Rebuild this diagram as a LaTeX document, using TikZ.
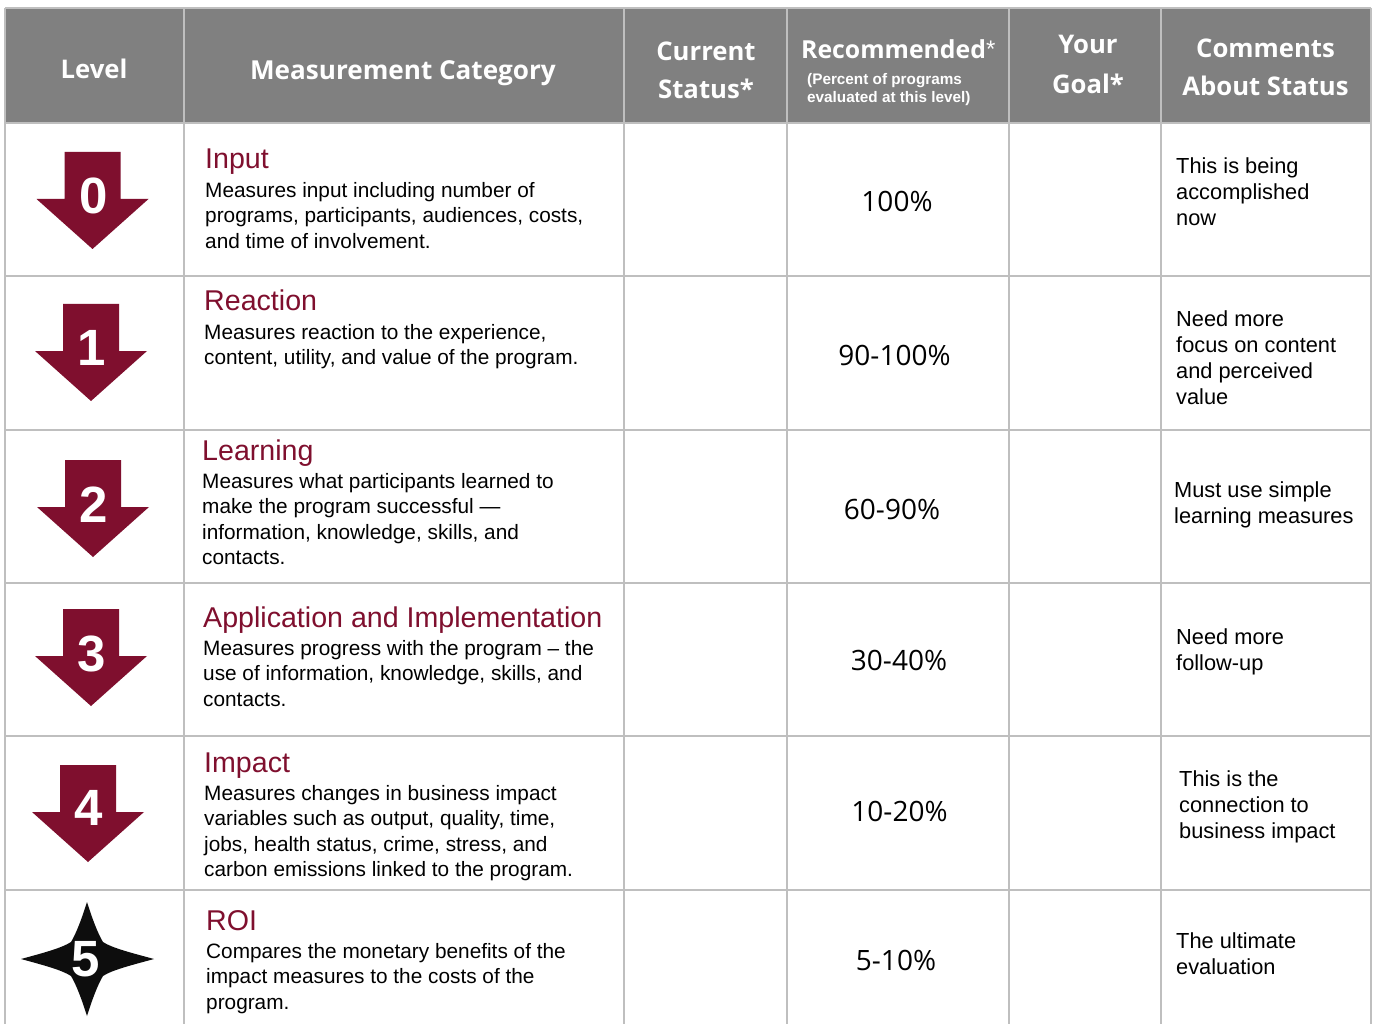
\documentclass[tikz,border=0pt]{standalone}
\usepackage{fontspec}
\setmainfont{Liberation Sans}
\newfontfamily\hdfont{Open Sans}
\definecolor{maroon}{HTML}{7F0F2E}
\definecolor{hdgray}{HTML}{808080}
\definecolor{rule}{HTML}{BFBFBF}
\newcommand{\lvlarrow}[4]{%
  \fill[maroon] (#1-28,#2) -- (#1+28,#2) -- (#1+28,#2+47) -- (#1+56,#2+47) -- (#1,#2+97) -- (#1-56,#2+47) -- (#1-28,#2+47) -- cycle;
  \node[digit] (digit#3) at (#1+0.7,#2+#4) {#3};}
\newcommand{\cat}[5]{%
  \node[cathead,anchor=base west] (head#1) at (#2,#3) {#4};
  \node[catbody,anchor=north west] (body#1) at (#2,#3+13) {#5};}
\tikzset{
  x=1pt,y=-1pt,
  digit/.style={font=\fontsize{51}{51}\selectfont\bfseries,text=white,inner sep=0pt},
  hd/.style={font=\hdfont\bfseries\fontsize{25.7}{38}\selectfont,text=white,align=center,inner sep=0pt},
  cathead/.style={font=\fontsize{28.6}{29}\selectfont,text=maroon,inner sep=0pt},
  catbody/.style={font=\fontsize{20.8}{25.4}\selectfont,align=left,inner sep=0pt,text=black},
  pct/.style={font=\hdfont\fontsize{28}{30}\selectfont,inner sep=0pt,text=black},
  cmt/.style={font=\fontsize{21.8}{26}\selectfont,align=left,inner sep=0pt,anchor=north west,text=black},
  gridl/.style={draw=rule,line width=2pt}
}
\begin{document}
\begin{tikzpicture}
\useasboundingbox (0,0) rectangle (1376,1024);
\fill[white] (0,0) rectangle (1376,1024);
\fill[hdgray] (5,8) rectangle (1371,123);
% grid
\foreach \yy in {8,123,276,430,583,736,890} \draw[gridl] (5,\yy) -- (1371,\yy);
\foreach \xx in {5,184,624,787,1009,1161,1371} \draw[gridl] (\xx,8) -- (\xx,1024);
% header
\node[hd,anchor=base] (hLevel) at (94,79) {Level};
\node[hd,font=\hdfont\bfseries\fontsize{26.1}{38}\selectfont,anchor=base] (hCat) at (403,79.5) {Measurement Category};
\node[hd] (hCur) at (706,70.5) {Current\\Status*};
\node[hd,font=\hdfont\bfseries\fontsize{24.8}{38}\selectfont,anchor=base west] (hRec) at (801,59) {Recommended\raisebox{1pt}{\normalfont\fontsize{24}{24}\selectfont *}};
\node[font=\bfseries\fontsize{15.3}{18.3}\selectfont,text=white,align=left,inner sep=0pt,anchor=north west] (hRecSub) at (807,73) {(Percent of programs\\evaluated at this level)};
\node[hd,font=\hdfont\bfseries\fontsize{25.7}{40}\selectfont] (hGoal) at (1088,64.5) {Your\\Goal*};
\node[hd] (hCom) at (1265.5,67) {Comments\\About Status};
% arrows
\lvlarrow{92.5}{152}{0}{44}
\lvlarrow{91}{304}{1}{44}
\lvlarrow{93}{460}{2}{44.5}
\lvlarrow{91}{609}{3}{45}
\lvlarrow{88}{765}{4}{42.5}
% star
\fill[black!95] (87,902) .. controls (92,918) and (98,934) .. (103,942)
  .. controls (112,948) and (132,953) .. (154,959)
  .. controls (132,965) and (112,970) .. (103,976)
  .. controls (98,984) and (92,1000) .. (87,1016)
  .. controls (82,1000) and (76,984) .. (71,976)
  .. controls (62,970) and (43,965) .. (21,959)
  .. controls (43,953) and (62,948) .. (71,942)
  .. controls (76,934) and (82,918) .. cycle;
\node[digit] (digit5) at (86,959) {5};
% categories
\cat{0}{205}{169}{Input}{Measures input including number of\\programs, participants, audiences, costs,\\and time of involvement.}
\cat{1}{204}{311}{Reaction}{Measures reaction to the experience,\\content, utility, and value of the program.}
\cat{2}{202}{460}{Learning}{Measures what participants learned to\\make the program successful —\\information, knowledge, skills, and\\contacts.}
\cat{3}{203}{627}{Application and Implementation}{Measures progress with the program – the\\use of information, knowledge, skills, and\\contacts.}
\cat{4}{204}{772}{Impact}{Measures changes in business impact\\variables such as output, quality, time,\\jobs, health status, crime, stress, and\\carbon emissions linked to the program.}
\cat{5}{206}{930}{ROI}{Compares the monetary benefits of the\\impact measures to the costs of the\\program.}
% percent
\node[pct] (p0) at (897,201) {100\%};
\node[pct] (p1) at (894.5,355) {90-100\%};
\node[pct] (p2) at (892,509) {60-90\%};
\node[pct] (p3) at (899,660) {30-40\%};
\node[pct] (p4) at (899.5,811) {10-20\%};
\node[pct] (p5) at (896,960) {5-10\%};
% comments
\node[cmt] (c0) at (1176,157.5) {This is being\\accomplished\\now};
\node[cmt] (c1) at (1176,310.5) {Need more\\focus on content\\and perceived\\value};
\node[cmt] (c2) at (1174,481.5) {Must use simple\\learning measures};
\node[cmt] (c3) at (1176,628.5) {Need more\\follow-up};
\node[cmt] (c4) at (1179,770.5) {This is the\\connection to\\business impact};
\node[cmt] (c5) at (1176,932.5) {The ultimate\\evaluation};
\end{tikzpicture}
\end{document}
